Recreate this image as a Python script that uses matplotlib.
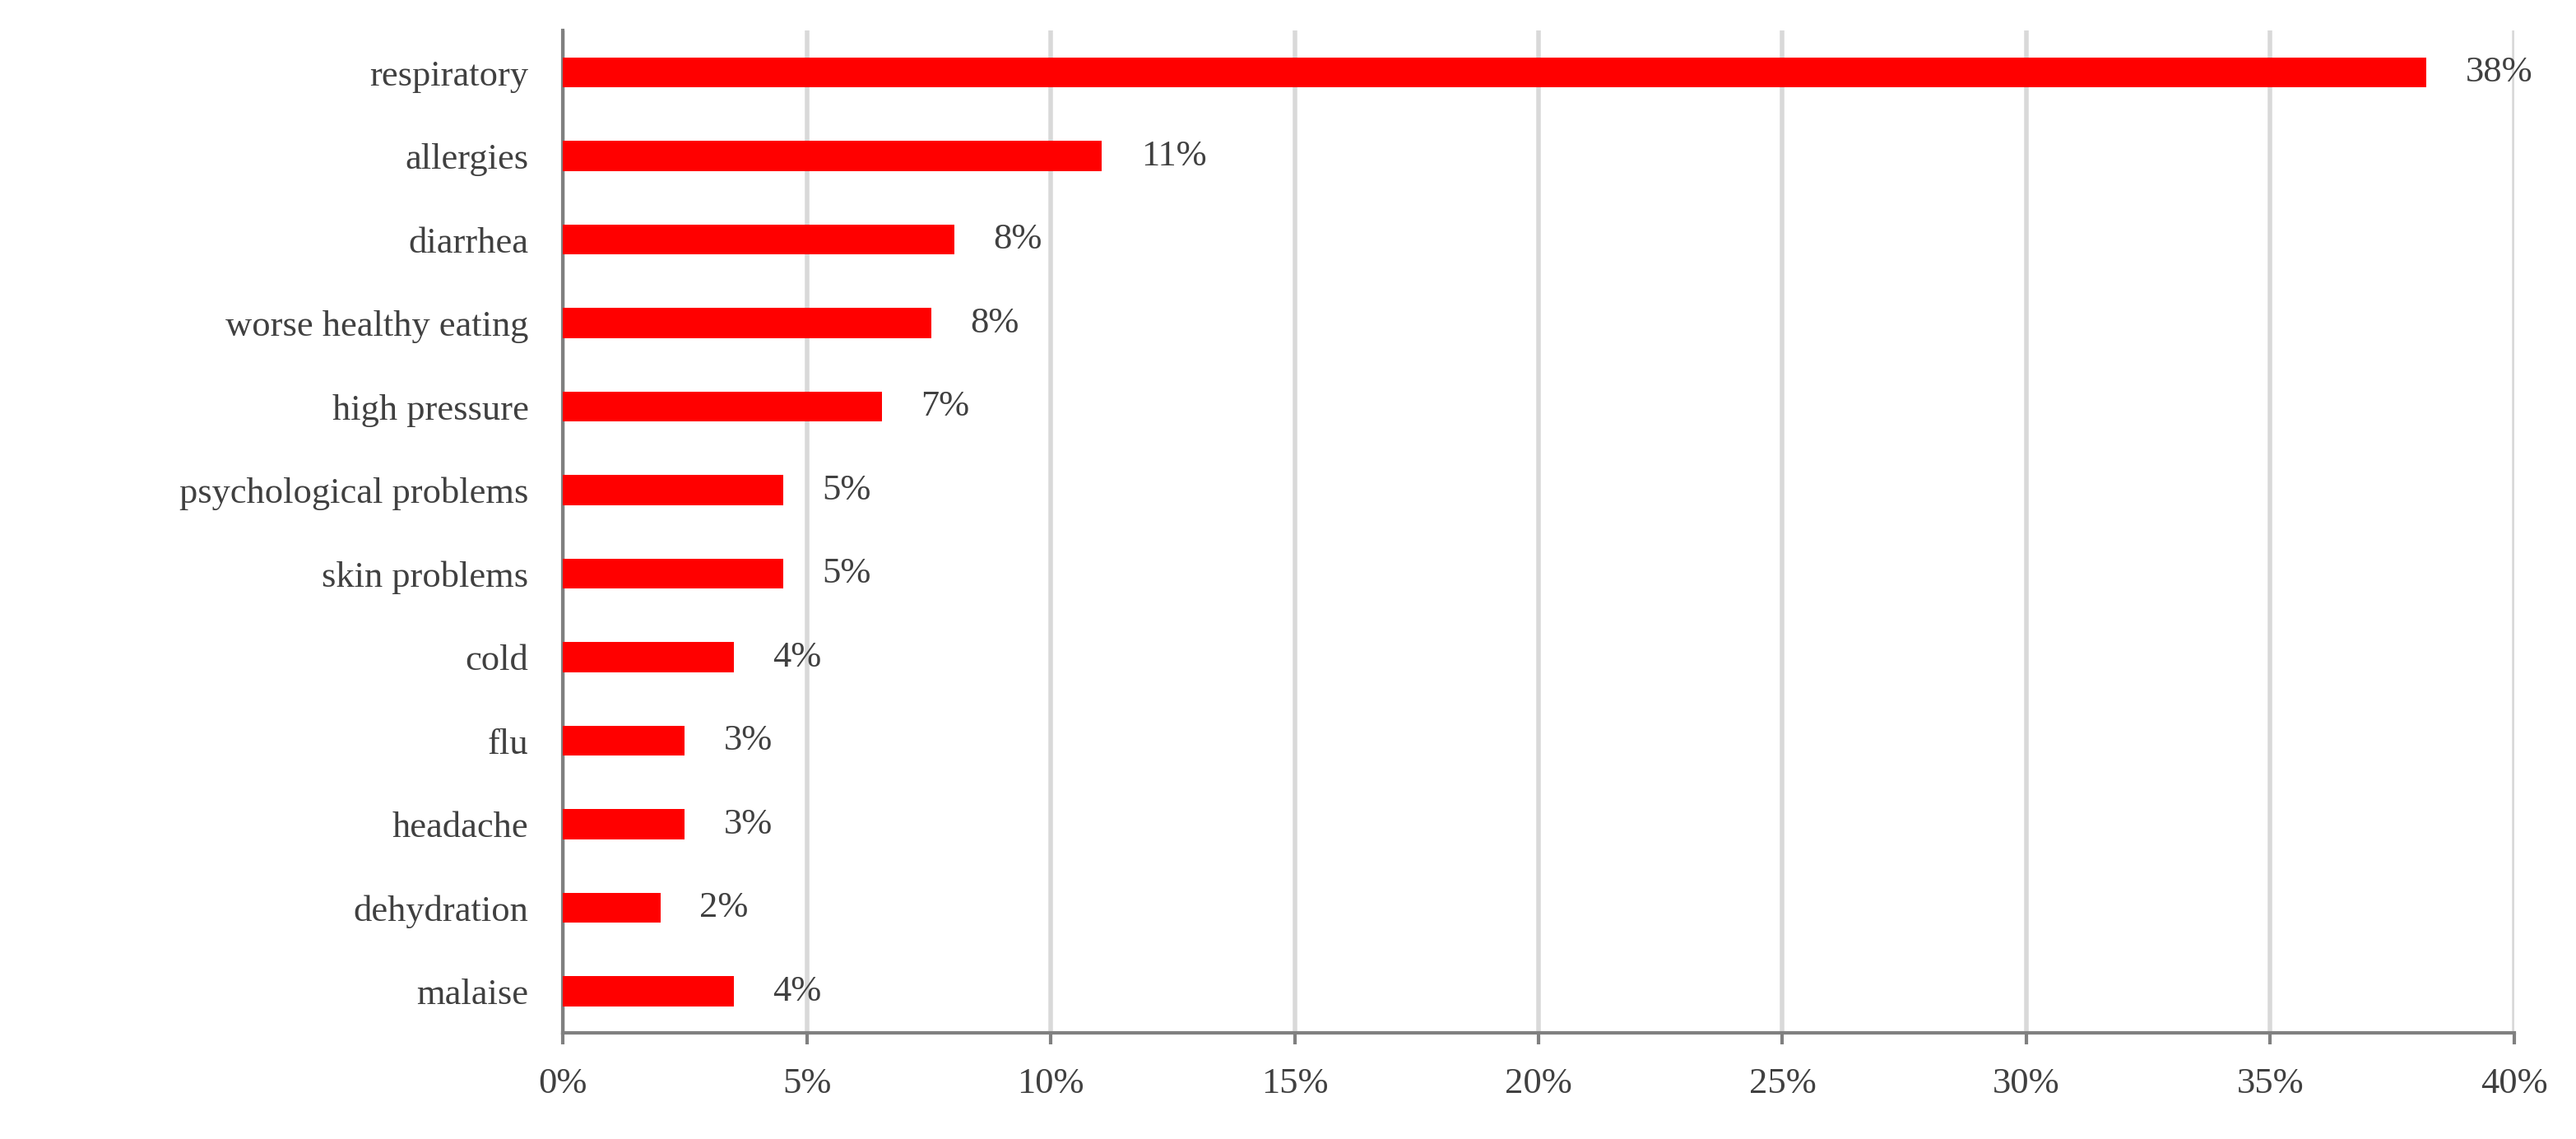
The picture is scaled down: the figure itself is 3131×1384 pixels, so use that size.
import matplotlib
matplotlib.use("Agg")
import matplotlib.pyplot as plt

categories = ["respiratory", "allergies", "diarrhea", "worse healthy eating", "high pressure",
              "psychological problems", "skin problems", "cold", "flu", "headache",
              "dehydration", "malaise"]
values = [38.2, 11.05, 8.03, 7.55, 6.54, 4.52, 4.52, 3.5, 2.5, 2.5, 2.0, 3.5]
labels = ["38%", "11%", "8%", "8%", "7%", "5%", "5%", "4%", "3%", "3%", "2%", "4%"]
xticks = [0, 5, 10, 15, 20, 25, 30, 35, 40]

plt.rcParams['font.family'] = ['Liberation Serif', 'DejaVu Serif']
fig = plt.figure(figsize=(31.31, 13.84), dpi=100)
ax = fig.add_axes([0.2185, 0.093, 0.7575, 0.88])
y = list(range(len(categories)))
ax.barh(y, values, height=0.36, color="#ff0000", zorder=3)
for yi, v, l in zip(y, values, labels):
    ax.text(v + 0.8, yi, l, va="center", ha="left", fontsize=32, color="#404040")
ax.set_yticks(y)
ax.set_yticklabels(categories, fontsize=32, color="#404040")
ax.set_ylim(len(categories) - 0.5, -0.5)
ax.set_xlim(0, 40)
ax.set_xticks(xticks)
ax.set_xticklabels([f"{t}%" for t in xticks], fontsize=32, color="#404040")
ax.grid(axis="x", color="#d9d9d9", linewidth=4, zorder=0)
for s in ["top", "right"]:
    ax.spines[s].set_visible(False)
for s in ["left", "bottom"]:
    ax.spines[s].set_color("#808080")
    ax.spines[s].set_linewidth(3)
ax.tick_params(axis="y", length=0, pad=30)
ax.tick_params(axis="x", length=10, width=3, color="#808080", pad=20)
fig.savefig("out.png", dpi=100)
